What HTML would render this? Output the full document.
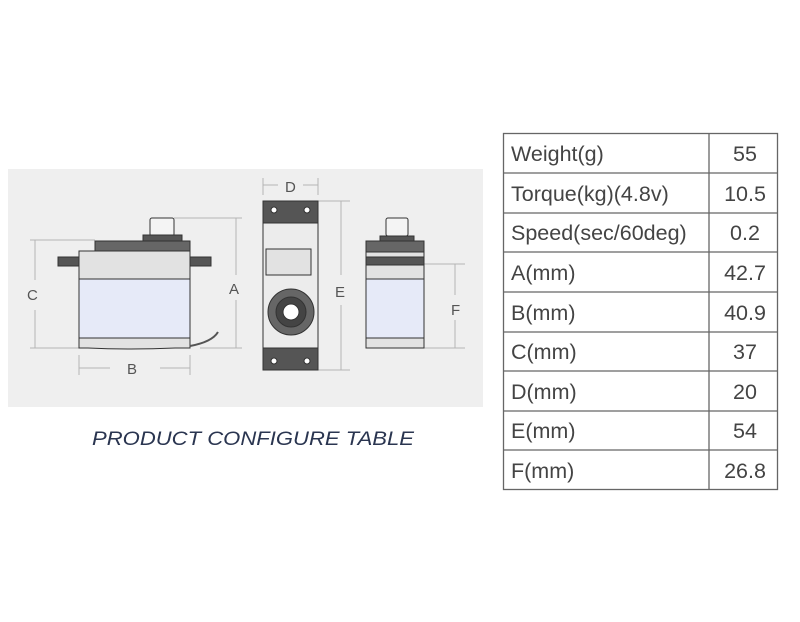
<!DOCTYPE html>
<html><head><meta charset="utf-8"><style>
html,body{margin:0;padding:0;background:#fff;width:800px;height:622px;overflow:hidden}
svg{display:block}
text{font-family:"Liberation Sans",sans-serif}
</style></head><body>
<svg width="800" height="622" viewBox="0 0 800 622" xmlns="http://www.w3.org/2000/svg">
<rect x="8" y="169" width="475" height="238" fill="#efefef"/>
<g stroke="#b4b4b4" stroke-width="1" fill="none">
<line x1="30" y1="240" x2="95" y2="240"/><line x1="30" y1="348" x2="79" y2="348"/>
<line x1="35" y1="240" x2="35" y2="280"/><line x1="35" y1="310" x2="35" y2="348"/>
<line x1="174" y1="218" x2="242" y2="218"/><line x1="200" y1="348" x2="242" y2="348"/>
<line x1="236" y1="218" x2="236" y2="275"/><line x1="236" y1="300" x2="236" y2="348"/>
<line x1="79" y1="355" x2="79" y2="375"/><line x1="190" y1="355" x2="190" y2="375"/>
<line x1="79" y1="368" x2="110" y2="368"/><line x1="160" y1="368" x2="190" y2="368"/>
<line x1="263" y1="178" x2="263" y2="195"/><line x1="318" y1="178" x2="318" y2="195"/>
<line x1="263" y1="185" x2="278" y2="185"/><line x1="303" y1="185" x2="318" y2="185"/>
<line x1="318" y1="201" x2="350" y2="201"/><line x1="318" y1="370" x2="350" y2="370"/>
<line x1="341" y1="201" x2="341" y2="275"/><line x1="341" y1="305" x2="341" y2="370"/>
<line x1="424" y1="264" x2="465" y2="264"/><line x1="424" y1="348" x2="465" y2="348"/>
<line x1="455" y1="264" x2="455" y2="295"/><line x1="455" y1="320" x2="455" y2="348"/>
</g>
<g font-size="15" fill="#555">
<text x="27" y="300">C</text><text x="229" y="294">A</text><text x="127" y="374">B</text>
<text x="285" y="192">D</text><text x="335" y="297">E</text><text x="451" y="315">F</text>
</g>
<g stroke="#333" stroke-width="1">
<rect x="150" y="218" width="24" height="18" rx="2" fill="#f4f4f4"/>
<rect x="143" y="235" width="39" height="6" fill="#555"/>
<rect x="95" y="241" width="95" height="11" fill="#666"/>
<rect x="58" y="257" width="153" height="9" fill="#555"/>
<rect x="79" y="251" width="111" height="28" fill="#e2e2e2"/>
<rect x="79" y="279" width="111" height="59" fill="#e6eaf8"/>
<path d="M79 338 H190 V348 H175 Q130 350 88 348 H79Z" fill="#e2e2e2"/>
<path d="M190 346 Q212 342 218 332" fill="none" stroke="#555" stroke-width="2"/>
</g>
<g stroke="#333" stroke-width="1">
<rect x="263" y="201" width="55" height="169" fill="#ececec"/>
<rect x="263" y="201" width="55" height="22" fill="#555"/>
<rect x="263" y="348" width="55" height="22" fill="#555"/>
<circle cx="274" cy="210" r="3" fill="#fff"/><circle cx="307" cy="210" r="3" fill="#fff"/>
<circle cx="274" cy="361" r="3" fill="#fff"/><circle cx="307" cy="361" r="3" fill="#fff"/>
<rect x="266" y="249" width="45" height="26" fill="#e2e2e2"/>
<circle cx="291" cy="312" r="23" fill="#666"/>
<circle cx="291" cy="312" r="15" fill="#444"/>
<circle cx="291" cy="312" r="8" fill="#fff"/>
</g>
<g stroke="#333" stroke-width="1">
<rect x="386" y="218" width="22" height="18" rx="2" fill="#f4f4f4"/>
<rect x="380" y="236" width="34" height="5" fill="#555"/>
<rect x="366" y="241" width="58" height="11" fill="#666"/>
<rect x="366" y="252" width="58" height="5" fill="#e2e2e2"/>
<rect x="366" y="257" width="58" height="8" fill="#555"/>
<rect x="366" y="265" width="58" height="14" fill="#e2e2e2"/>
<rect x="366" y="279" width="58" height="59" fill="#e6eaf8"/>
<rect x="366" y="338" width="58" height="10" fill="#e2e2e2"/>
</g>
<text x="92" y="445" font-size="19" font-style="italic" fill="#2a3550" textLength="322" lengthAdjust="spacingAndGlyphs">PRODUCT CONFIGURE TABLE</text>
<g stroke="#666" stroke-width="1.3" fill="none">
<rect x="503.5" y="133.5" width="274" height="356"/>
<line x1="709" y1="133" x2="709" y2="490"/>
<line x1="503" y1="173" x2="778" y2="173"/><line x1="503" y1="213" x2="778" y2="213"/>
<line x1="503" y1="252" x2="778" y2="252"/><line x1="503" y1="292" x2="778" y2="292"/>
<line x1="503" y1="332" x2="778" y2="332"/><line x1="503" y1="371" x2="778" y2="371"/>
<line x1="503" y1="411" x2="778" y2="411"/><line x1="503" y1="450" x2="778" y2="450"/>
</g>
<g font-size="21.5" fill="#444">
<text x="511" y="161">Weight(g)</text>
<text x="511" y="201">Torque(kg)(4.8v)</text>
<text x="511" y="240">Speed(sec/60deg)</text>
<text x="511" y="280">A(mm)</text>
<text x="511" y="320">B(mm)</text>
<text x="511" y="359">C(mm)</text>
<text x="511" y="399">D(mm)</text>
<text x="511" y="438">E(mm)</text>
<text x="511" y="478">F(mm)</text>
</g>
<g font-size="21.5" fill="#444" text-anchor="middle">
<text x="745" y="161">55</text><text x="745" y="201">10.5</text><text x="745" y="240">0.2</text>
<text x="745" y="280">42.7</text><text x="745" y="320">40.9</text><text x="745" y="359">37</text>
<text x="745" y="399">20</text><text x="745" y="438">54</text><text x="745" y="478">26.8</text>
</g>
</svg>
</body></html>
